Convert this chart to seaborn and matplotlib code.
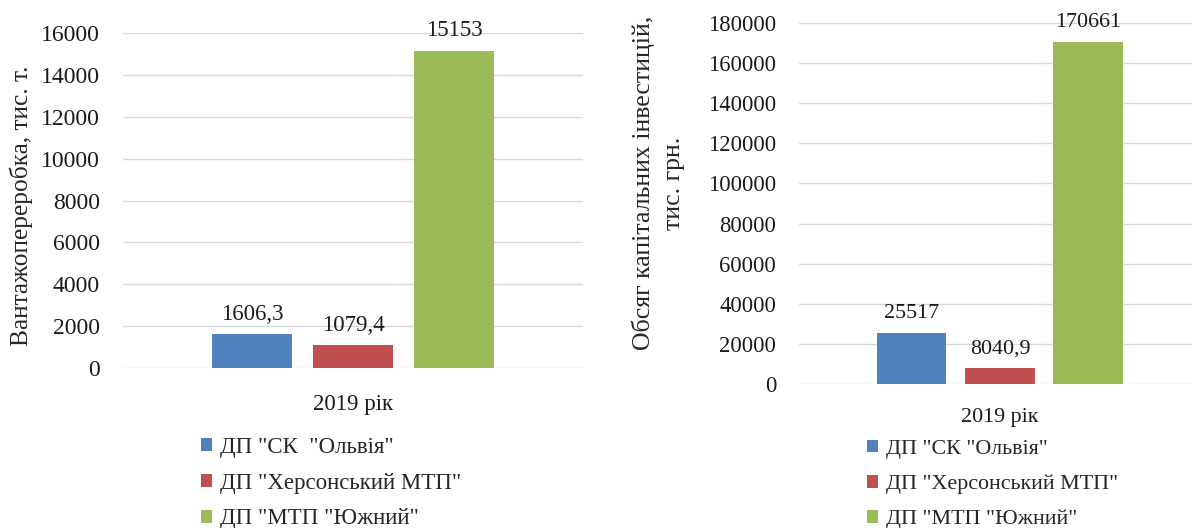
import matplotlib
matplotlib.use("Agg")
import matplotlib.pyplot as plt
import seaborn as sns
import pandas as pd

# data
years = ["2019 рік"]
companies_left = ['ДП "СК  "Ольвія"', 'ДП "Херсонський МТП"', 'ДП "МТП "Южний"']
companies_right = ['ДП "СК "Ольвія"', 'ДП "Херсонський МТП"', 'ДП "МТП "Южний"']
cargo = [1606.3, 1079.4, 15153]
investments = [25517, 8040.9, 170661]
colors = ["#4F81BD", "#C0504D", "#9BBB59"]

cargo_ticks = list(range(0, 16001, 2000))
invest_ticks = list(range(0, 180001, 20000))


def fmt(v):
    # comma as decimal separator, like the source
    if float(v).is_integer():
        return f"{int(v)}"
    return f"{v}".replace(".", ",")


def draw_panel(ax, companies, values, ticks, ylabel, fs, tick_fs, lab_fs, xpad, label_coords):
    df = pd.DataFrame({"year": years * len(companies), "company": companies, "value": values})
    sns.barplot(data=df, x="year", y="value", hue="company", hue_order=companies,
                palette=colors, saturation=1, width=0.66, gap=0.21, linewidth=0,
                ax=ax, legend=True)
    ax.set_xlim(-0.5, 0.5)
    ax.set_ylim(ticks[0], ticks[-1])
    ax.set_yticks(ticks)
    ax.set_yticklabels([str(t) for t in ticks])
    ax.set_xlabel("")
    ax.set_ylabel(ylabel, fontsize=lab_fs, linespacing=1.45)
    ax.yaxis.set_label_coords(*label_coords)
    ax.grid(axis="y", color="#D9D9D9", linewidth=1)
    ax.grid(axis="x", visible=False)
    for s in ax.spines.values():
        s.set_visible(False)
    ax.tick_params(axis="both", length=0, colors="#1a1a1a")
    ax.tick_params(axis="y", pad=16.5, labelsize=tick_fs)
    ax.tick_params(axis="x", pad=xpad, labelsize=fs)
    for cont, v in zip(ax.containers, values):
        ax.bar_label(cont, labels=[fmt(v)], padding=7, fontsize=fs, color="#1a1a1a")


sns.set_theme(style="whitegrid")
plt.rcParams["font.family"] = ["Liberation Serif", "DejaVu Serif"]

fig = plt.figure(figsize=(11.92, 5.28), dpi=100)
ax1 = fig.add_axes([0.1032, 0.3030, 0.3859, 0.6345])
ax2 = fig.add_axes([0.6703, 0.2727, 0.3372, 0.6837])

draw_panel(ax1, companies_left, cargo, cargo_ticks,
           "Вантажопереробка, тис. т.", 16.5, 17, 18.3, 19, (-0.196, 0.485))
draw_panel(ax2, companies_right, investments, invest_ticks,
           "Обсяг капітальних інвестицій,\nтис. грн.", 15.8, 16.3, 18.6, 17, (-0.284, 0.557))

for ax, anchor, fs, sp in [(ax1, (0.1686, 0.173), 16.5, 0.65), (ax2, (0.7273, 0.167), 15.8, 0.72)]:
    h, l = ax.get_legend_handles_labels()
    ax.legend(h, l, loc="upper left", bbox_to_anchor=anchor, bbox_transform=fig.transFigure,
              frameon=False, fontsize=fs, borderpad=0, borderaxespad=0,
              handlelength=0.5, handleheight=0.5, handletextpad=0.35, labelspacing=sp)

fig.savefig("out.png", dpi=100)
